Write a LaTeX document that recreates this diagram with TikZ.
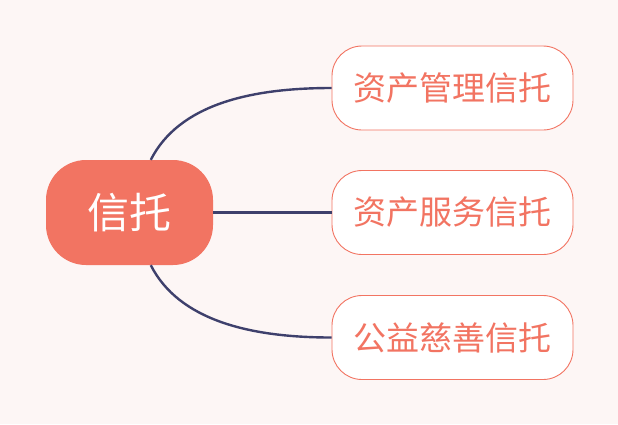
\documentclass[tikz,border=0pt]{standalone}
\usepackage{fontspec}
\newfontfamily\cjk{Noto Sans CJK SC}
\definecolor{bgpink}{HTML}{FDF6F5}
\definecolor{coral}{HTML}{F27462}
\definecolor{navy}{HTML}{3E406C}
\begin{document}
\begin{tikzpicture}[x=1pt, y=-1pt, font=\cjk,
	rootbox/.style={fill=coral, text=white, rounded corners=40pt, minimum width=167pt, minimum height=105pt, inner sep=0pt, font=\cjk\fontsize{42}{42}\selectfont},
	leafbox/.style={draw=coral, line width=0.9pt, fill=white, text=coral, rounded corners=30pt, minimum width=241pt, minimum height=84pt, inner sep=0pt, font=\cjk\fontsize{33}{33}\selectfont},
	branch/.style={draw=navy, line width=2.4pt}]
	
	% background
	\fill[bgpink] (0, 0) rectangle (618, 424);
	\useasboundingbox (0, 0) rectangle (618, 424);
	
	\node[rootbox] (root) at (129.5, 212.5) {信托};
	\node[leafbox] (manage) at (452.5, 88) {资产管理信托};
	\node[leafbox] (service) at (452.5, 212.5) {资产服务信托};
	\node[leafbox] (charity) at (452.5, 337.5) {公益慈善信托};
	
	\draw[branch] (root.68) .. controls +(28, -55) and +(-82, 0) .. (manage.west);
	\draw[branch] (root.east) -- (service.west);
	\draw[branch] (root.-68) .. controls +(28, 55) and +(-82, 0) .. (charity.west);
\end{tikzpicture}
\end{document}
